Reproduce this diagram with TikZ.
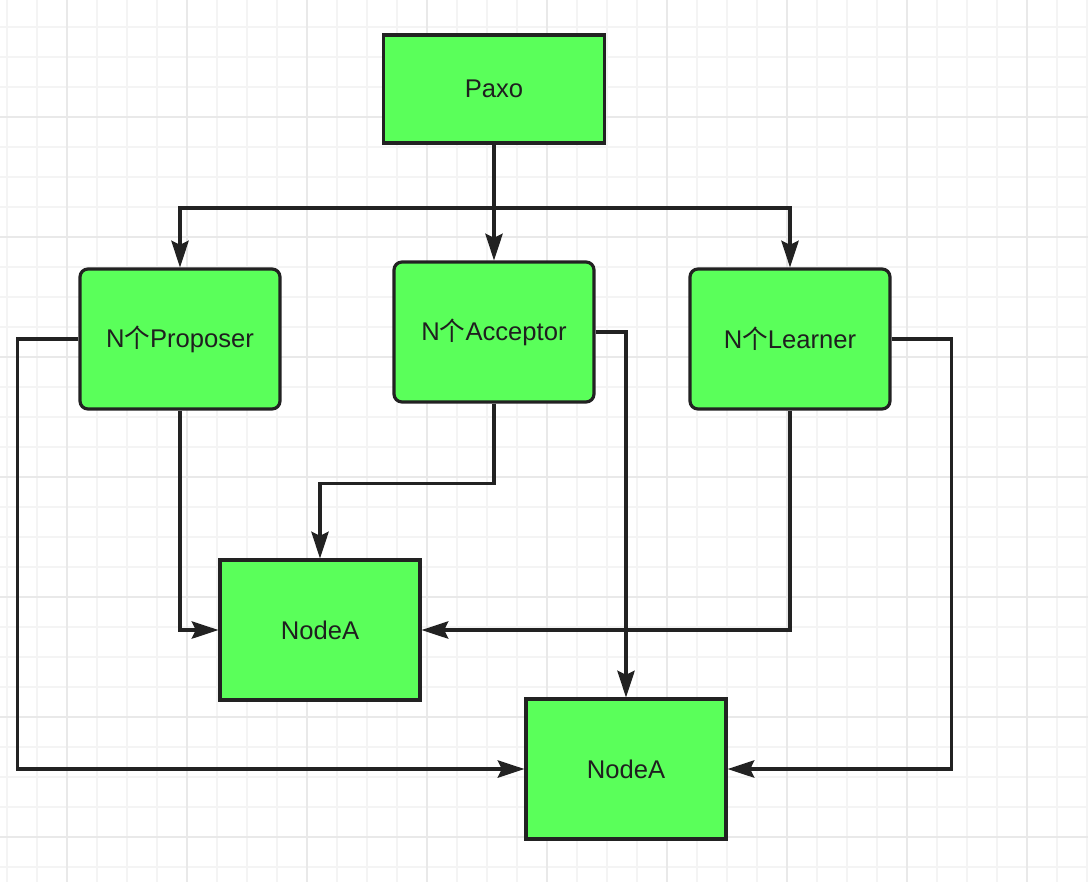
\documentclass[tikz,border=0pt]{standalone}
\usepackage{fontspec}
\setmainfont{Liberation Sans}
\newfontfamily\cjk{Noto Sans CJK SC}
\usetikzlibrary{arrows.meta}
\definecolor{boxgreen}{HTML}{5AFF5A}
\definecolor{boxline}{HTML}{222222}
\definecolor{gridminor}{HTML}{F4F4F4}
\definecolor{gridmajor}{HTML}{E9E9E9}
\begin{document}
\begin{tikzpicture}[x=0.75pt,y=-0.75pt,
        box/.style={draw=boxline,fill=boxgreen,line width=2.4pt,text=black!88,font=\fontsize{19.2}{23}\selectfont,minimum width=150pt,minimum height=105pt,inner sep=0pt},
        role/.style={box,rounded corners=6pt},
        link/.style={draw=boxline,line width=2.3pt,-{Stealth[length=20pt,width=13pt,inset=3pt]}}]
        \useasboundingbox (0,0) rectangle (1088,882);
        \fill[white] (0,0) rectangle (1088,882);
        % background grid
        \foreach \g in {0,...,36} \draw[gridminor,line width=1.5pt] ({6.67+30*\g},0) -- ({6.67+30*\g},882);
        \foreach \g in {0,...,28} \draw[gridminor,line width=1.5pt] (0,{26.67+30*\g}) -- (1088,{26.67+30*\g});
        \foreach \g in {0,...,8} \draw[gridmajor,line width=1.5pt] ({66.67+120*\g},0) -- ({66.67+120*\g},882);
        \foreach \g in {0,...,6} \draw[gridmajor,line width=1.5pt] (0,{116.67+120*\g}) -- (1088,{116.67+120*\g});
        % boxes
        \node[box,minimum width=166pt,minimum height=81pt] (paxo) at (494,89) {Paxo};
        \node[role] (prop) at (180,339) {N{\cjk 个}Proposer};
        \node[role] (acc) at (494,332) {N{\cjk 个}Acceptor};
        \node[role] (lrn) at (790,339) {N{\cjk 个}Learner};
        \node[box] (nodea) at (320,630) {NodeA};
        \node[box] (nodeb) at (626,769) {NodeA};
        \coordinate (bus) at (494,208);
        % connectors
        \draw[link] (paxo.south) -- (acc.north);
        \draw[link] (bus) -| (prop.north);
        \draw[link] (bus) -| (lrn.north);
        \draw[link] (prop.west) -- ++(-61,0) |- (nodeb.west);
        \draw[link] (prop.south) |- (nodea.west);
        \draw[link] (acc.south) -- ++(0,80) -| (nodea.north);
        \draw[link] (acc.east) -| (nodeb.north);
        \draw[link] (lrn.south) |- (nodea.east);
        \draw[link] (lrn.east) -- ++(60,0) |- (nodeb.east);
    \end{tikzpicture}
\end{document}
